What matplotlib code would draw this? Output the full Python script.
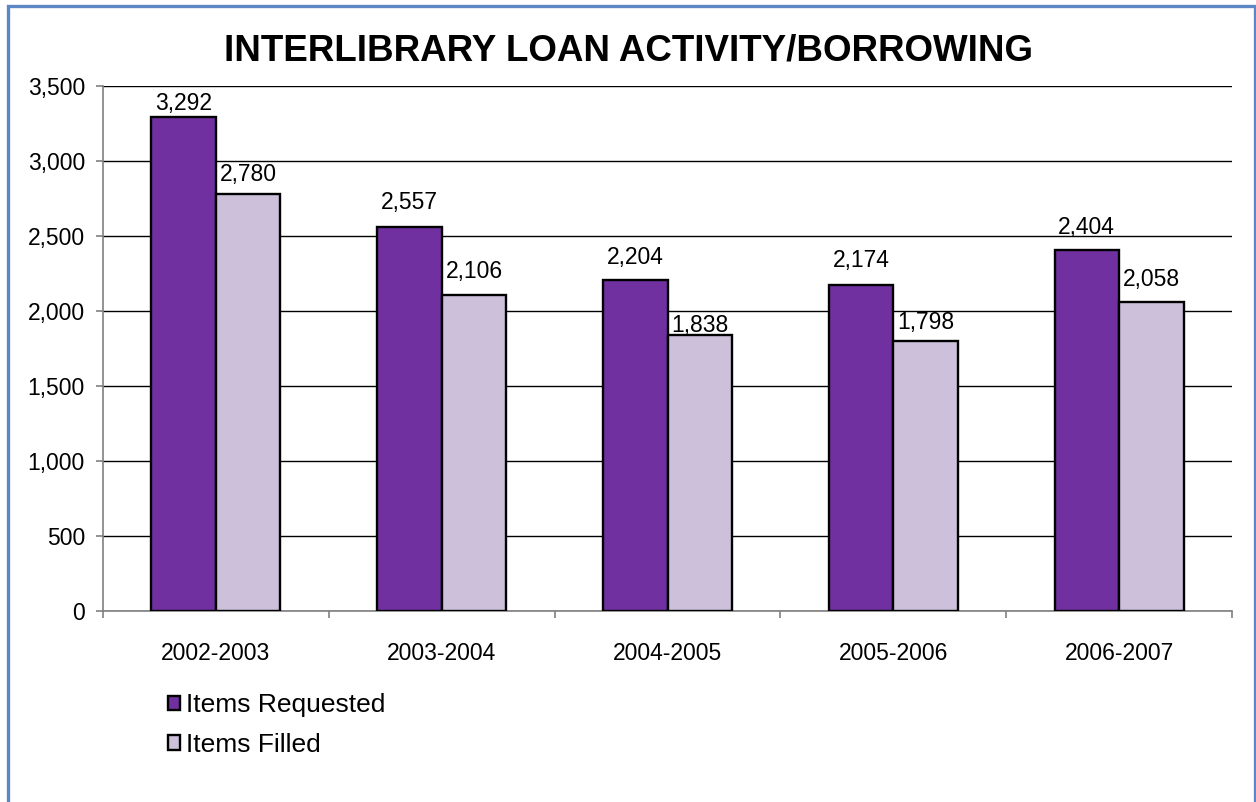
import matplotlib.pyplot as plt
import numpy as np
from matplotlib.patches import Patch, Rectangle
from matplotlib.ticker import FuncFormatter

years = ['2002-2003', '2003-2004', '2004-2005', '2005-2006', '2006-2007']
requested = [3292, 2557, 2204, 2174, 2404]
filled = [2780, 2106, 1838, 1798, 2058]

# vertical gap (pixels) between each bar top and the centre of its value label
requested_gap = [14, 25, 23, 24, 23]
filled_gap = [19, 24, 10, 19, 23]

purple = '#7030A0'
lavender = '#CCC0DA'


def main():
    plt.rcParams['font.family'] = ['Liberation Sans', 'DejaVu Sans']

    fig = plt.figure(figsize=(12.56, 8.02), dpi=100)
    ax = fig.add_axes([103 / 1256, 1 - 611 / 802, 1129 / 1256, 525 / 802])

    x = np.arange(len(years))
    w = 0.286
    ax.bar(x - w / 2, requested, w, color=purple, edgecolor='black', linewidth=1.7, zorder=3)
    ax.bar(x + w / 2, filled, w, color=lavender, edgecolor='black', linewidth=1.7, zorder=3)

    for xi, v, g in zip(x - w / 2, requested, requested_gap):
        ax.annotate(f'{v:,}', (xi, v), xytext=(0, g * 0.72), textcoords='offset points',
                    ha='center', va='center', fontsize=16.5)
    for xi, v, g in zip(x + w / 2, filled, filled_gap):
        ax.annotate(f'{v:,}', (xi, v), xytext=(0, g * 0.72), textcoords='offset points',
                    ha='center', va='center', fontsize=16.5)

    ax.set_xlim(-0.5, len(years) - 0.5)
    ax.set_ylim(0, 3500)
    ax.set_yticks(range(0, 3501, 500))
    ax.yaxis.set_major_formatter(FuncFormatter(lambda v, p: f'{int(v):,}'))
    ax.grid(axis='y', color='black', linewidth=1.0, zorder=0)

    ax.set_xticks(x)
    ax.set_xticklabels(years)
    ax.set_xticks(np.arange(-0.5, len(years)), minor=True)
    ax.tick_params(axis='x', which='major', length=0, pad=22, labelsize=16.5)
    ax.tick_params(axis='x', which='minor', length=5, color='#808080', width=1.2)
    ax.tick_params(axis='y', length=5, color='#808080', width=1.2, labelsize=16.5, pad=8)

    for s in ('top', 'right'):
        ax.spines[s].set_visible(False)
    for s in ('left', 'bottom'):
        ax.spines[s].set_color('#808080')
        ax.spines[s].set_linewidth(1.2)

    fig.text(0.5, 1 - 51 / 802, 'INTERLIBRARY LOAN ACTIVITY/BORROWING',
             ha='center', va='center', fontsize=26.5, fontweight='bold')

    handles = [Patch(facecolor=purple, edgecolor='black', linewidth=1.7),
               Patch(facecolor=lavender, edgecolor='black', linewidth=1.7)]
    fig.legend(handles, ['Items Requested', 'Items Filled'],
               loc='upper left', bbox_to_anchor=(168 / 1256, 1 - 693 / 802),
               frameon=False, fontsize=19, handlelength=0.45, handleheight=0.45,
               handletextpad=0.25, labelspacing=0.6, borderpad=0, borderaxespad=0)

    fig.patches.append(Rectangle((8 / 1256, -0.05), 1246.5 / 1256, 1 - 6 / 802 + 0.05,
                                 transform=fig.transFigure, fill=False,
                                 edgecolor='#5B87C5', linewidth=2.4))

    fig.savefig('out.png', dpi=100)


if __name__ == '__main__':
    main()
